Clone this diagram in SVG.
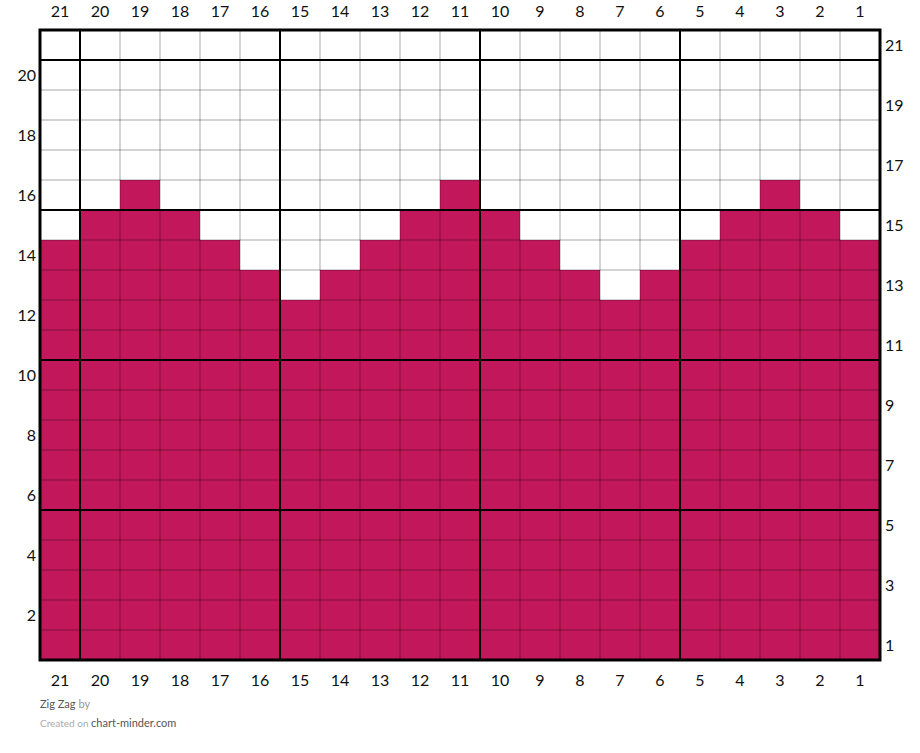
<svg xmlns="http://www.w3.org/2000/svg" width="920" height="753" viewBox="0 0 920 753">
<style>
.lbl{font-family:Lato,"Liberation Sans",sans-serif;font-size:16px;fill:#111}
.c{text-anchor:middle}
.r{text-anchor:end}
.fill{fill:#C2185B}
.thin{stroke:#000;stroke-opacity:0.35;stroke-width:1;fill:none}
.thick{stroke:#000;stroke-width:2;fill:none}
.foot{font-family:Lato,"Liberation Sans",sans-serif}
</style>
<rect width="920" height="753" fill="#fff"/>
<g id="cells">
<rect class="fill" x="40" y="240" width="40" height="420"/>
<rect class="fill" x="80" y="210" width="40" height="450"/>
<rect class="fill" x="120" y="180" width="40" height="480"/>
<rect class="fill" x="160" y="210" width="40" height="450"/>
<rect class="fill" x="200" y="240" width="40" height="420"/>
<rect class="fill" x="240" y="270" width="40" height="390"/>
<rect class="fill" x="280" y="300" width="40" height="360"/>
<rect class="fill" x="320" y="270" width="40" height="390"/>
<rect class="fill" x="360" y="240" width="40" height="420"/>
<rect class="fill" x="400" y="210" width="40" height="450"/>
<rect class="fill" x="440" y="180" width="40" height="480"/>
<rect class="fill" x="480" y="210" width="40" height="450"/>
<rect class="fill" x="520" y="240" width="40" height="420"/>
<rect class="fill" x="560" y="270" width="40" height="390"/>
<rect class="fill" x="600" y="300" width="40" height="360"/>
<rect class="fill" x="640" y="270" width="40" height="390"/>
<rect class="fill" x="680" y="240" width="40" height="420"/>
<rect class="fill" x="720" y="210" width="40" height="450"/>
<rect class="fill" x="760" y="180" width="40" height="480"/>
<rect class="fill" x="800" y="210" width="40" height="450"/>
<rect class="fill" x="840" y="240" width="40" height="420"/>
</g>
<g id="grid">
<path class="thin" d="M120 30V660M160 30V660M200 30V660M240 30V660M320 30V660M360 30V660M400 30V660M440 30V660M520 30V660M560 30V660M600 30V660M640 30V660M720 30V660M760 30V660M800 30V660M840 30V660"/>
<path class="thin" d="M40 90H880M40 120H880M40 150H880M40 180H880M40 240H880M40 270H880M40 300H880M40 330H880M40 390H880M40 420H880M40 450H880M40 480H880M40 540H880M40 570H880M40 600H880M40 630H880"/>
<path class="thick" d="M80 30V660M280 30V660M480 30V660M680 30V660M40 60H880M40 210H880M40 360H880M40 510H880"/>
<rect x="40" y="30" width="840" height="630" fill="none" stroke="#000" stroke-width="3"/>
</g>
<g id="top-labels" class="lbl c">
<text x="60" y="17">21</text><text x="100" y="17">20</text><text x="140" y="17">19</text><text x="180" y="17">18</text><text x="220" y="17">17</text><text x="260" y="17">16</text><text x="300" y="17">15</text><text x="340" y="17">14</text><text x="380" y="17">13</text><text x="420" y="17">12</text><text x="460" y="17">11</text><text x="500" y="17">10</text><text x="540" y="17">9</text><text x="580" y="17">8</text><text x="620" y="17">7</text><text x="660" y="17">6</text><text x="700" y="17">5</text><text x="740" y="17">4</text><text x="780" y="17">3</text><text x="820" y="17">2</text><text x="860" y="17">1</text>
</g>
<g id="bottom-labels" class="lbl c">
<text x="60" y="686">21</text><text x="100" y="686">20</text><text x="140" y="686">19</text><text x="180" y="686">18</text><text x="220" y="686">17</text><text x="260" y="686">16</text><text x="300" y="686">15</text><text x="340" y="686">14</text><text x="380" y="686">13</text><text x="420" y="686">12</text><text x="460" y="686">11</text><text x="500" y="686">10</text><text x="540" y="686">9</text><text x="580" y="686">8</text><text x="620" y="686">7</text><text x="660" y="686">6</text><text x="700" y="686">5</text><text x="740" y="686">4</text><text x="780" y="686">3</text><text x="820" y="686">2</text><text x="860" y="686">1</text>
</g>
<g id="left-labels" class="lbl r">
<text x="36" y="81">20</text><text x="36" y="141">18</text><text x="36" y="201">16</text><text x="36" y="261">14</text><text x="36" y="321">12</text><text x="36" y="381">10</text><text x="36" y="441">8</text><text x="36" y="501">6</text><text x="36" y="561">4</text><text x="36" y="621">2</text>
</g>
<g id="right-labels" class="lbl">
<text x="885" y="51">21</text><text x="885" y="111">19</text><text x="885" y="171">17</text><text x="885" y="231">15</text><text x="885" y="291">13</text><text x="885" y="351">11</text><text x="885" y="411">9</text><text x="885" y="471">7</text><text x="885" y="531">5</text><text x="885" y="591">3</text><text x="885" y="651">1</text>
</g>
<g id="footer" class="foot">
<text x="40" y="708" font-size="11" fill="#555">Zig Zag <tspan fill="#999">by</tspan></text>
<text x="40" y="727" font-size="10" fill="#aaa">Created on <tspan font-size="11" fill="#555">chart-minder.com</tspan></text>
</g>
</svg>
